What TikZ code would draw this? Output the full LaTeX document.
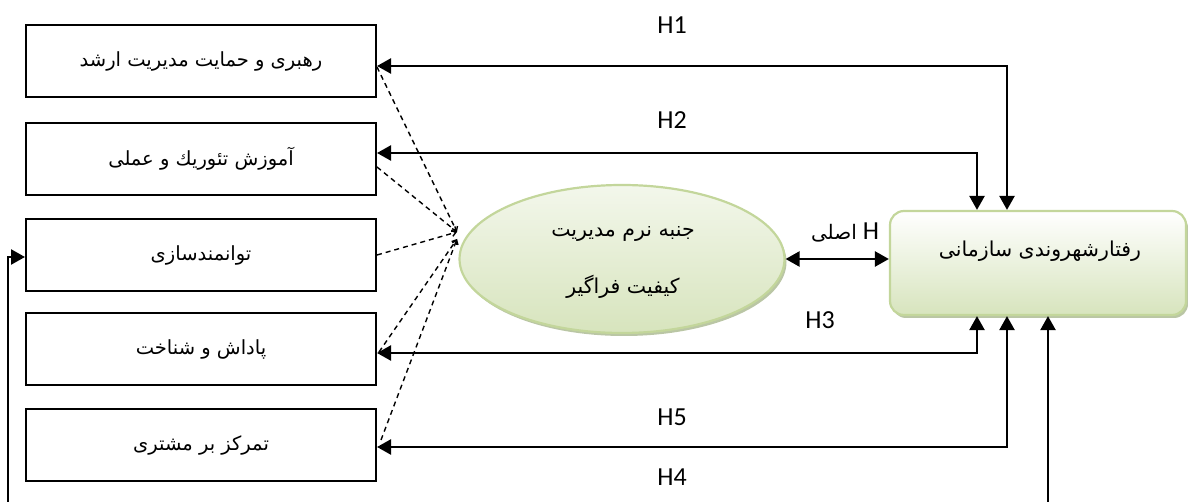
\documentclass[tikz,border=0pt]{standalone}
\usepackage{fontspec}
\setmainfont{Carlito}
\newfontfamily\fa[Script=Arabic]{DejaVu Sans}
\TeXXeTstate=1
\usetikzlibrary{arrows.meta,shapes.geometric,shadows}
\definecolor{gborder}{HTML}{C3D69B}
\definecolor{gfill}{HTML}{D7E4BD}
\definecolor{gshadow}{HTML}{A9B88E}
\begin{document}
\begin{tikzpicture}[x=1pt,y=-1pt,
  lbox/.style={draw=black,line width=2pt,minimum width=350pt,minimum height=72pt,inner sep=0pt,
    font=\fa\fontsize{19.5}{22}\selectfont},
  conn/.style={line width=2.4pt,{Triangle[length=14pt,width=15pt]}-{Triangle[length=14pt,width=15pt]}},
  oneway/.style={line width=2.4pt,-{Triangle[length=14pt,width=15pt]}},
  dsh/.style={line width=1.4pt,dash pattern=on 5pt off 4pt,-{Straight Barb[length=4pt,width=6pt]}},
  hlab/.style={font=\fontsize{26}{30}\selectfont,inner sep=0pt}
]
\useasboundingbox (0,0) rectangle (1188,502);

% left boxes
\node[lbox] (b1) at (201,61) {\beginR رهبری و حمایت مدیریت ارشد\endR};
\node[lbox] (b2) at (201,159) {\beginR آموزش تئوریك و عملی\endR};
\node[lbox] (b3) at (201,255) {\beginR توانمندسازی\endR};
\node[lbox] (b4) at (201,349) {\beginR پاداش و شناخت\endR};
\node[lbox] (b5) at (201,445) {\beginR تمرکز بر مشتری\endR};

% ellipse
\node[ellipse,draw=gborder,line width=2.2pt,minimum width=325pt,minimum height=148pt,inner sep=0pt,
  top color=white!70!gfill,bottom color=gfill,
  drop shadow={shadow xshift=2pt,shadow yshift=-3pt,fill=gshadow,opacity=0.8}] (el) at (622,259) {};
\node[align=center,font=\fa\fontsize{20.5}{57}\selectfont] (elt) at (623,262)
  {\beginR جنبه نرم مدیریت\endR\\\beginR کیفیت فراگیر\endR};

% right box
\node[draw=gborder,line width=2.2pt,rounded corners=14pt,minimum width=296pt,minimum height=104pt,
  top color=white,bottom color=gfill,
  drop shadow={shadow xshift=2pt,shadow yshift=-3pt,fill=gshadow,opacity=0.8}] (rb) at (1038,263) {};
\node[font=\fa\fontsize{20.5}{22}\selectfont] (rbt) at (1040,251) {\beginR رفتارشهروندی سازمانی\endR};

% labels
\node[hlab] (h1) at (672,25) {H1};
\node[hlab] (h2) at (672,120) {H2};
\node[hlab] (h3) at (820,320) {H3};
\node[hlab] (h5) at (672,417) {H5};
\node[hlab] (h4) at (672,477) {H4};
\node[hlab] (hm) at (845,232) {\beginR H\ {\fa\fontsize{20}{22}\selectfont اصلی}\endR};

% solid connectors
\draw[conn] ([yshift=-5pt]b1.east) -| ([xshift=-31pt]rb.north);
\draw[conn] ([yshift=6pt]b2.east) -| ([xshift=-61pt]rb.north);
\draw[conn] ([yshift=-4pt]b4.east) -| ([xshift=-61pt]rb.south);
\draw[conn] ([yshift=-2pt]b5.east) -| ([xshift=-31pt]rb.south);
\draw[conn] (el.east) -- (rb.west |- el.east);
\coordinate (h4l) at (8,502);
\coordinate (h4r) at (1048,502);
\draw[oneway] (h4l) |- ([yshift=-2pt]b3.west);
\draw[oneway] (h4r) -- (h4r |- rb.south);

% dashed connectors
\coordinate (c1) at (457,232);
\coordinate (c2) at (457,239);
\draw[dsh] ([yshift=-6pt]b1.east) -- (c1);
\draw[dsh] ([yshift=-8pt]b2.east) -- (c1);
\draw[dsh] (b3.east) -- (c1);
\draw[dsh] ([xshift=2pt,yshift=-3pt]b4.east) -- (c2);
\draw[dsh] ([xshift=4pt,yshift=5pt]b5.east) -- (c2);
\end{tikzpicture}
\end{document}
